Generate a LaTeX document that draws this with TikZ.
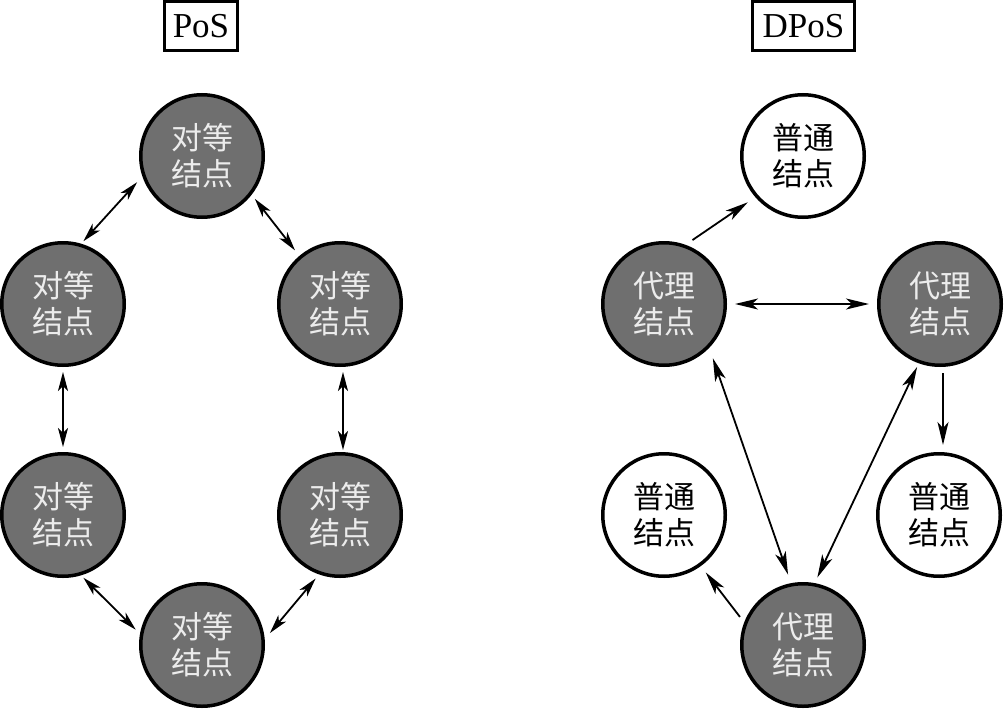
\documentclass[tikz,border=0pt]{standalone}
\usepackage{fontspec}
\setmainfont{Liberation Serif}
\newfontfamily\cjk{Noto Sans CJK SC}
\usetikzlibrary{arrows.meta,calc}
\definecolor{nodegray}{HTML}{6F6F6F}
\definecolor{txtlight}{HTML}{ECECEC}
\tikzset{
  nodebase/.style={circle, draw=black, line width=3.5pt, minimum size=122.5pt, inner sep=0pt,
    align=center, font=\cjk\fontsize{31}{36}\selectfont},
  peer/.style={nodebase, fill=nodegray, text=txtlight},
  plain/.style={nodebase, fill=white, text=black},
  titlebox/.style={draw=black, line width=3pt, minimum height=48.5pt, inner sep=0pt,
    font=\fontsize{35}{40}\selectfont},
  link/.style={line width=1.8pt, -{Stealth[length=19pt,width=10pt,inset=5pt]}},
  dlink/.style={line width=1.8pt, {Stealth[length=19pt,width=10pt,inset=5pt]}-{Stealth[length=19pt,width=10pt,inset=5pt]}},
  rlink/.style={line width=1.8pt, -{Stealth[length=23pt,width=11pt,inset=6pt]}},
  rdlink/.style={line width=1.8pt, {Stealth[length=23pt,width=11pt,inset=6pt]}-{Stealth[length=23pt,width=11pt,inset=6pt]}}
}
\begin{document}
\begin{tikzpicture}[x=1pt,y=-1pt]
\useasboundingbox (0,0) rectangle (1004,709);
% titles
\node[titlebox, minimum width=73pt] (pos) at (201,26) {PoS};
\node[titlebox, minimum width=102pt] (dpos) at (803.5,26) {DPoS};
% PoS nodes
\node[peer] (t)  at (202,156) {对等\\结点};
\node[peer] (lu) at (63,304)  {对等\\结点};
\node[peer] (ru) at (340,304) {对等\\结点};
\node[peer] (ll) at (63,515)  {对等\\结点};
\node[peer] (rl) at (340,515) {对等\\结点};
\node[peer] (b)  at (202,645) {对等\\结点};
% PoS arrows
\draw[dlink] ($(lu)+(-72:66)$) -- ($(t)+(-202:70)$);
\draw[dlink] ($(t)+(-321:68)$) -- ($(ru)+(-130:70)$);
\draw[dlink] ($(lu)+(0,68)$) -- ($(ll)+(0,-68)$);
\draw[dlink] ($(ru)+(3,68)$) -- ($(rl)+(3,-65)$);
\draw[dlink] ($(ll)+(-288:66)$) -- ($(b)+(-167:68)$);
\draw[dlink] ($(rl)+(-249:68)$) -- ($(b)+(-10:69)$);
% DPoS nodes
\node[plain] (nt) at (803,156) {普通\\结点};
\node[peer] (dl) at (664,304) {代理\\结点};
\node[peer] (dr) at (940,304) {代理\\结点};
\node[plain] (nl) at (664,515) {普通\\结点};
\node[plain] (nr) at (939,515) {普通\\结点};
\node[peer] (db) at (803,645) {代理\\结点};
% DPoS arrows
\draw[rlink] ($(dl)+(-66:70)$) -- ($(nt)+(-220:72)$);
\draw[rdlink] ($(dl)+(71,0)$) -- ($(dr)+(-71,0)$);
\draw[rdlink] ($(dl)+(-312:73)$) -- ($(db)+(-102:72)$);
\draw[rdlink] ($(dr)+(-250:67)$) -- ($(db)+(-78:69)$);
\draw[rlink] ($(dr)+(3,69)$) -- ($(nr)+(4,-70)$);
\draw[rlink] ($(db)+(-156:69)$) -- ($(nl)+(-306:71)$);
\end{tikzpicture}
\end{document}
